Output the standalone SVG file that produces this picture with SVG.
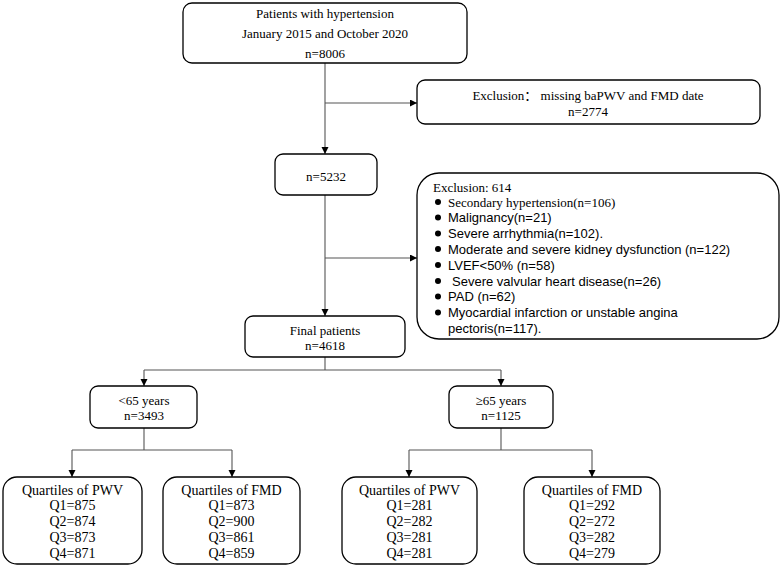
<svg xmlns="http://www.w3.org/2000/svg" width="782" height="568" viewBox="0 0 782 568">
<style>
.box{fill:#fff;stroke:#000;stroke-width:1.3}
.t{font-family:"Liberation Serif","Noto Sans CJK SC",serif;font-size:13px;fill:#000;text-anchor:middle}
.tq{font-family:"Liberation Serif",serif;font-size:14px;fill:#000;text-anchor:middle}
.ts{font-family:"Liberation Serif",serif;font-size:13px;fill:#000}
.ta{font-family:"Liberation Sans",Arial,sans-serif;font-size:13px;fill:#000}
.ln{fill:none;stroke:#555;stroke-width:1.1}
.ar{fill:none;stroke:#555;stroke-width:1.1;marker-end:url(#arr)}
</style>
<defs>
<marker id="arr" markerUnits="userSpaceOnUse" markerWidth="8" markerHeight="8" refX="7" refY="3.5" orient="auto">
<path d="M0,0 L7,3.5 L0,7 z" fill="#000"/>
</marker>
</defs>
<rect width="782" height="568" fill="#fff"/>
<g id="connectors">
<line class="ar" x1="325" y1="63" x2="325" y2="154"/>
<line class="ar" x1="325" y1="103" x2="417" y2="103"/>
<line class="ar" x1="325" y1="195" x2="325" y2="316"/>
<line class="ar" x1="325" y1="258" x2="417" y2="258"/>
<line class="ln" x1="325" y1="357" x2="325" y2="370"/>
<line class="ln" x1="144" y1="370" x2="501" y2="370"/>
<line class="ar" x1="144" y1="370" x2="144" y2="386"/>
<line class="ar" x1="501" y1="370" x2="501" y2="386"/>
<line class="ln" x1="144" y1="428" x2="144" y2="450"/>
<line class="ln" x1="72" y1="450" x2="232" y2="450"/>
<line class="ar" x1="72" y1="450" x2="72" y2="477"/>
<line class="ar" x1="232" y1="450" x2="232" y2="477"/>
<line class="ln" x1="501" y1="428" x2="501" y2="450"/>
<line class="ln" x1="409" y1="450" x2="592" y2="450"/>
<line class="ar" x1="409" y1="450" x2="409" y2="477"/>
<line class="ar" x1="592" y1="450" x2="592" y2="477"/>
</g>
<g id="n_top">
<rect class="box" x="183" y="3" width="284" height="60" rx="9"/>
<text class="t" x="325" y="18">Patients with hypertension</text>
<text class="t" x="325" y="38">January 2015 and October 2020</text>
<text class="t" x="325" y="58">n=8006</text>
</g>
<g id="n_excl1">
<rect class="box" x="417" y="80" width="343" height="44" rx="8"/>
<text class="t" x="588" y="100">Exclusion： missing baPWV and FMD date</text>
<text class="t" x="588" y="116">n=2774</text>
</g>
<g id="n_5232">
<rect class="box" x="275" y="154" width="102" height="41" rx="8"/>
<text class="t" x="326" y="181">n=5232</text>
</g>
<g id="n_excl2">
<rect class="box" x="417" y="173" width="362" height="166" rx="22"/>
<text class="ts" x="433" y="191.5">Exclusion: 614</text>
<g fill="#000">
<circle cx="438" cy="202" r="3"/>
<circle cx="438" cy="217.5" r="3"/>
<circle cx="438" cy="233.5" r="3"/>
<circle cx="438" cy="249" r="3"/>
<circle cx="438" cy="265" r="3"/>
<circle cx="438" cy="281" r="3"/>
<circle cx="438" cy="296.5" r="3"/>
<circle cx="438" cy="312.5" r="3"/>
</g>
<text class="ts" x="448" y="206.5">Secondary hypertension(n=106)</text>
<text class="ta" x="448" y="222">Malignancy(n=21)</text>
<text class="ta" x="448" y="238">Severe arrhythmia(n=102).</text>
<text class="ta" x="448" y="253.5">Moderate and severe kidney dysfunction (n=122)</text>
<text class="ta" x="448" y="269.5">LVEF&lt;50% (n=58)</text>
<text class="ta" x="452" y="285.5">Severe valvular heart disease(n=26)</text>
<text class="ta" x="448" y="301">PAD (n=62)</text>
<text class="ta" x="448" y="317">Myocardial infarction or unstable angina</text>
<text class="ta" x="448" y="332.5">pectoris(n=117).</text>
</g>
<g id="n_final">
<rect class="box" x="245" y="316" width="160" height="41" rx="8"/>
<text class="t" x="325" y="334.5">Final patients</text>
<text class="t" x="325" y="350">n=4618</text>
</g>
<g id="n_lt65">
<rect class="box" x="90" y="386" width="107" height="42" rx="8"/>
<text class="t" x="144" y="404.5">&lt;65 years</text>
<text class="t" x="144" y="420">n=3493</text>
</g>
<g id="n_ge65">
<rect class="box" x="449" y="386" width="104" height="42" rx="8"/>
<text class="t" x="501" y="404.5">≥65 years</text>
<text class="t" x="501" y="420">n=1125</text>
</g>
<g id="n_pwv1">
<rect class="box" x="3" y="477" width="139" height="87" rx="14"/>
<text class="tq" x="72.5" y="494.5">Quartiles of PWV</text>
<text class="tq" x="72.5" y="510">Q1=875</text>
<text class="tq" x="72.5" y="526">Q2=874</text>
<text class="tq" x="72.5" y="541.5">Q3=873</text>
<text class="tq" x="72.5" y="557.5">Q4=871</text>
</g>
<g id="n_fmd1">
<rect class="box" x="163" y="477" width="137" height="87" rx="14"/>
<text class="tq" x="231.5" y="494.5">Quartiles of FMD</text>
<text class="tq" x="231.5" y="510">Q1=873</text>
<text class="tq" x="231.5" y="526">Q2=900</text>
<text class="tq" x="231.5" y="541.5">Q3=861</text>
<text class="tq" x="231.5" y="557.5">Q4=859</text>
</g>
<g id="n_pwv2">
<rect class="box" x="342" y="477" width="135" height="87" rx="14"/>
<text class="tq" x="409.5" y="494.5">Quartiles of PWV</text>
<text class="tq" x="409.5" y="510">Q1=281</text>
<text class="tq" x="409.5" y="526">Q2=282</text>
<text class="tq" x="409.5" y="541.5">Q3=281</text>
<text class="tq" x="409.5" y="557.5">Q4=281</text>
</g>
<g id="n_fmd2">
<rect class="box" x="524" y="477" width="136" height="87" rx="14"/>
<text class="tq" x="592" y="494.5">Quartiles of FMD</text>
<text class="tq" x="592" y="510">Q1=292</text>
<text class="tq" x="592" y="526">Q2=272</text>
<text class="tq" x="592" y="541.5">Q3=282</text>
<text class="tq" x="592" y="557.5">Q4=279</text>
</g>
</svg>
